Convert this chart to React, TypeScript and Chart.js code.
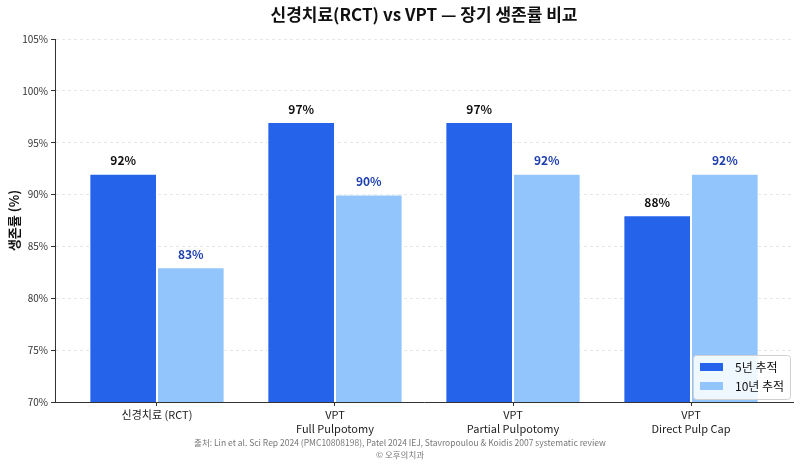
import React, { useEffect, useRef } from "react";
import { Chart, registerables } from "chart.js";

Chart.register(...registerables);

const FONT = '"Noto Sans CJK KR", "Noto Sans", sans-serif';

const categories: string[][] = [
  ["신경치료 (RCT)"],
  ["VPT", "Full Pulpotomy"],
  ["VPT", "Partial Pulpotomy"],
  ["VPT", "Direct Pulp Cap"],
];
const fiveYear: number[] = [92, 97, 97, 88];
const tenYear: number[] = [83, 90, 92, 92];
const seriesNames: string[] = ["5년 추적", "10년 추적"];
const yTicks: number[] = [70, 75, 80, 85, 90, 95, 100, 105];

const titleText = "신경치료(RCT) vs VPT — 장기 생존률 비교";
const sourceText =
  "출처: Lin et al. Sci Rep 2024 (PMC10808198), Patel 2024 IEJ, Stavropoulou & Koidis 2007 systematic review";
const creditText = "© 오후의치과";

const COLORS = ["#2563EB", "#93C5FD"];
const LABEL_COLORS = ["#111111", "#1E40AF"];

const decorPlugin = {
  id: "decor",
  afterDatasetsDraw(chart: any) {
    const { ctx } = chart;
    ctx.save();
    ctx.font = `bold 12px ${FONT}`;
    ctx.textAlign = "center";
    ctx.textBaseline = "middle";
    chart.data.datasets.forEach((ds: any, di: number) => {
      const meta = chart.getDatasetMeta(di);
      meta.data.forEach((bar: any, i: number) => {
        ctx.fillStyle = LABEL_COLORS[di];
        ctx.fillText(`${ds.data[i].y}%`, bar.x, bar.y - 13);
      });
    });
    ctx.restore();
  },
  afterDraw(chart: any) {
    const { ctx, chartArea } = chart;
    ctx.save();
    // title over the plot area
    ctx.fillStyle = "#111111";
    ctx.font = `bold 17px ${FONT}`;
    ctx.textAlign = "center";
    ctx.textBaseline = "middle";
    ctx.fillText(titleText, (chartArea.left + chartArea.right) / 2, 15);

    // footer lines
    ctx.fillStyle = "#777777";
    ctx.font = `8.5px ${FONT}`;
    ctx.fillText(sourceText, chart.width / 2, 443);
    ctx.fillText(creditText, chart.width / 2, 455);

    // legend box, lower right inside the plot
    const boxW = 97;
    const boxH = 44;
    const bx = chartArea.right - boxW - 3;
    const by = chartArea.bottom - boxH - 3;
    ctx.fillStyle = "rgba(255,255,255,0.85)";
    ctx.strokeStyle = "#d0d0d0";
    ctx.lineWidth = 1;
    ctx.beginPath();
    ctx.roundRect(bx + 0.5, by + 0.5, boxW, boxH, 3);
    ctx.fill();
    ctx.stroke();
    ctx.font = `12px ${FONT}`;
    ctx.textAlign = "left";
    chart.data.datasets.forEach((ds: any, di: number) => {
      const cy = by + 12 + di * 19;
      ctx.fillStyle = ds.backgroundColor;
      ctx.fillRect(bx + 7, cy - 4, 23, 8);
      ctx.fillStyle = "#111111";
      ctx.fillText(ds.label, bx + 42, cy);
    });
    ctx.restore();
  },
};

export default function App() {
  const canvasRef = useRef<HTMLCanvasElement | null>(null);

  useEffect(() => {
    if (!canvasRef.current) return;
    const chart = new Chart(canvasRef.current, {
      type: "bar",
      data: {
        datasets: [fiveYear, tenYear].map((vals, di) => ({
          label: seriesNames[di],
          data: vals.map((v, i) => ({ x: i, y: v })),
          backgroundColor: COLORS[di],
          borderColor: "#ffffff",
          borderWidth: 1,
          borderSkipped: "bottom",
          categoryPercentage: 0.76,
          barPercentage: 1.0,
        })),
      },
      options: {
        animation: false,
        responsive: false,
        layout: { padding: { left: 0, right: 7, top: 39, bottom: 0 } },
        plugins: {
          legend: { display: false },
          title: { display: false },
          tooltip: { enabled: false },
        },
        scales: {
          x: {
            type: "linear",
            offset: false,
            min: -0.573,
            max: 3.573,
            afterBuildTicks: (scale: any) => {
              scale.ticks = categories.map((_, i) => ({ value: i }));
            },
            afterFit: (scale: any) => {
              scale.height = 65;
            },
            ticks: {
              callback: (v: any) => categories[Number(v)] ?? "",
              color: "#222222",
              font: { family: FONT, size: 11, lineHeight: 1.35 },
              padding: 1,
              maxRotation: 0,
              autoSkip: false,
            },
            grid: {
              offset: false,
              drawOnChartArea: false,
              drawTicks: true,
              tickLength: 4,
              tickColor: "#333333",
            },
            border: { display: true, color: "#333333", width: 1 },
          },
          y: {
            min: 70,
            max: 105,
            afterBuildTicks: (scale: any) => {
              scale.ticks = yTicks.map((v) => ({ value: v }));
            },
            afterFit: (scale: any) => {
              scale.width = 55;
            },
            ticks: {
              callback: (v: any) => `${v}%`,
              color: "#333333",
              font: { family: FONT, size: 10 },
              padding: 3,
            },
            grid: {
              color: "#e6e6e6",
              lineWidth: 1,
              drawTicks: true,
              tickLength: 4,
              tickColor: "#333333",
              tickBorderDash: [],
            },
            border: { display: true, color: "#333333", width: 1, dash: [3, 3] },
            title: {
              display: true,
              text: "생존률 (%)",
              color: "#111111",
              font: { family: FONT, size: 13, weight: "bold" },
              padding: { top: 6, bottom: 4 },
            },
          },
        },
      },
      plugins: [decorPlugin],
    } as any);
    return () => chart.destroy();
  }, []);

  return (
    <div style={{ position: "fixed", left: 0, top: 0, width: 800, height: 467, background: "#ffffff" }}>
      <canvas ref={canvasRef} width={800} height={467} />
    </div>
  );
}
